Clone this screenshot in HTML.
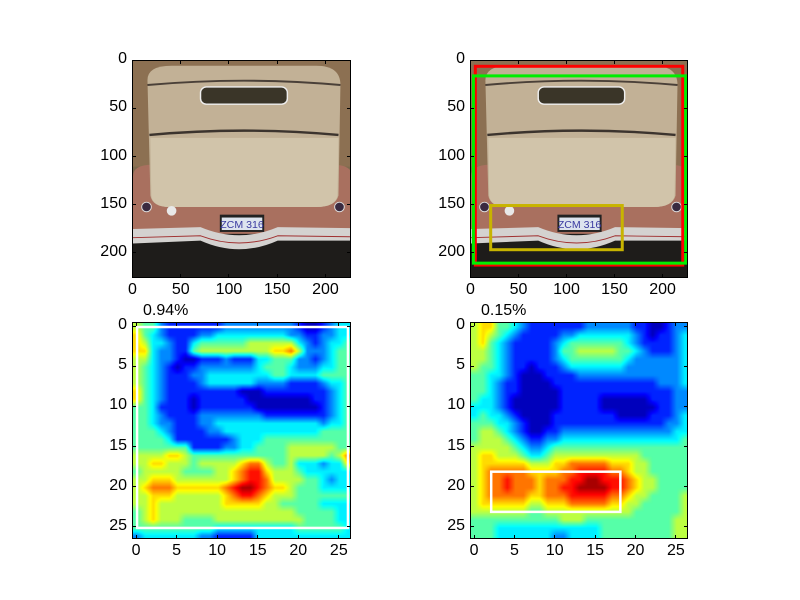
<!DOCTYPE html>
<html><head><meta charset="utf-8"><style>
body{margin:0;background:#fff;}
#root{position:relative;width:800px;height:600px;background:#fff;font-family:"Liberation Sans",sans-serif;overflow:hidden}
.ax{position:absolute;border:1px solid #000;box-sizing:border-box;overflow:hidden}
.lbl{position:absolute;font-size:16px;color:#000;white-space:nowrap}
.tk{position:absolute;background:#000}
canvas,svg{position:absolute;left:0;top:0}
</style></head><body>
<div id="root"></div>
<script>
const photoTicks=[0,50,100,150,200];
const heatTicks=[0,5,10,15,20,25];
const boxesRight=[{c:'#ff0000',x0:4,x1:220,y0:5,y1:212},{c:'#00ee00',x0:2,x1:223,y0:15,y1:210},{c:'#c8b400',x0:20,x1:157,y0:150,y1:196}];
const heatLeft=[
"544211111112222222221001233","643211112233333333322112233","653321134444445555553212334","663221145555555556675222344",
"553221001112111334442212344","543210112222222344432223344","543211122333333334433334444","543211112333333222211112334",
"643211111111100011111111234","643211101111110000000011234","443111101111111000000001234","443211112222222211111111234",
"443221112233333333333332334","444321111223333333333334444","444431111111233344444444444","444444411112233444455555544",
"555566544444444444455555457","556655545555567754453332336","455555444455678865554333333","556665555555678875555443233",
"567776666667899876654443333","556665555556788765554444444","556555555556666655444443333","456555555555555555554444433",
"456555444455555555555444433","444444444433333333334444443","233333332211111333333333333"];
const heatRight=[
"566443211111112222221100122","565432111112233333332101123","564321111123444444432111123","554321111124455555443211123",
"554321111123444444432222223","544321101112333333322222223","443321000111122222222222223","443211000011111111111112223",
"443211000001111111111111122","433210000001111100000011122","333210000001111100000001122","343321000011111111000011123",
"444332100011111111111111223","455432100112222222222222233","455543211223333333333333334","555554322344444444444444444",
"566555433455555555555444444","566666655566777776665544444","567777766667788887765544444","567787776777889988876554444",
"567787776778899998876554444","567777766777888887765544445","566666655666777776655444445","555555544555555555554444445",
"444444444445554444444444455","444333333333333344444444455","444333333322333344444444455"];
const boxLeft={x0:0,x1:26,y0:0,y1:25};
const boxRight={x0:2,x1:18,y0:18,y1:23};
const titles=["0.94%","0.15%"];

const root=document.getElementById('root');
function jet(t){t=Math.max(0,Math.min(1,t));
 const r=Math.max(0,Math.min(1,1.5-Math.abs(4*t-3))),g=Math.max(0,Math.min(1,1.5-Math.abs(4*t-2))),b=Math.max(0,Math.min(1,1.5-Math.abs(4*t-1)));
 return [r*255|0,g*255|0,b*255|0];}
function makeAxes(name,L,T,W,H,d0,d1,ticks){
 const ax=document.createElement('div');ax.className='ax';
 
 
 ax.style.left=L+'px';ax.style.top=T+'px';ax.style.width=W+'px';ax.style.height=H+'px';
 root.appendChild(ax);
 const sx=v=>(v-d0)/(d1-d0)*W, sy=v=>(v-d0)/(d1-d0)*H;
 ticks.forEach(v=>{
  const px=L+sx(v), py=T+sy(v);
  const xl=document.createElement('div');xl.className='lbl';
  
  
  xl.textContent=v;xl.style.left=(px-30)+'px';xl.style.width='60px';xl.style.textAlign='center';xl.style.top=(T+H+3)+'px';root.appendChild(xl);
  const yl=document.createElement('div');yl.className='lbl';
  
  
  yl.textContent=v;yl.style.right=(800-L+5)+'px';yl.style.top=(py-10)+'px';root.appendChild(yl);
  [[px-0.5,T,1,4],[px-0.5,T+H-4,1,4],[L,py-0.5,4,1],[L+W-4,py-0.5,4,1]].forEach(a=>{
   const t=document.createElement('div');t.className='tk';
   
   
   t.style.left=a[0]+'px';t.style.top=a[1]+'px';t.style.width=a[2]+'px';t.style.height=a[3]+'px';t.style.zIndex=5;root.appendChild(t);
  });
 });
 return {ax,sx,sy,W,H};
}
const photoSVG=`<rect x="0" y="0" width="227" height="227" fill="#7d6a4e"/>
<rect x="0" y="0" width="227" height="110" fill="#8c7052"/>
<path d="M0 120 Q0 108 20 108 L207 108 Q227 108 227 120 L227 185 L0 185Z" fill="#a9705f"/>
<path d="M15 20 Q15 5 40 5 L190 5 Q215 5 215 25 L213 140 Q210 152 190 152 L38 152 Q20 152 18 140Z" fill="#c2b196"/>
<path d="M18 80 L213 80 L212 140 Q210 152 190 152 L38 152 Q20 152 19 140Z" fill="#d1c4aa"/>
<path d="M15 25 Q115 16 215 25" stroke="#4a4038" stroke-width="2" fill="none"/>
<path d="M17 77 Q115 68 213 77" stroke="#3c342e" stroke-width="2.5" fill="none"/>
<rect x="70" y="27" width="90" height="18" rx="6" fill="#3a3528" stroke="#eee" stroke-width="1.5"/>
<circle cx="14" cy="152" r="5" fill="#3a2a40" stroke="#ddd"/><circle cx="214" cy="152" r="5" fill="#3a2a40" stroke="#ddd"/>
<circle cx="40" cy="156" r="5" fill="#e8e8e8"/>
<rect x="0" y="180" width="227" height="47" fill="#1e1c1a"/>
<path d="M0 175 L70 173 Q110 190 150 173 L227 174 L227 187 L150 187 Q110 205 70 187 L0 190Z" fill="#d4d2d0"/>
<path d="M0 184 L70 182 Q110 197 150 182 L227 183" stroke="#a03030" stroke-width="1" fill="none"/>
<rect x="90" y="160" width="46" height="18" fill="#222"/>
<rect x="92" y="163" width="42" height="13" fill="#dde4ee"/>
<text x="113" y="174" font-size="11" text-anchor="middle" fill="#3a3aa0" font-family="Liberation Sans, sans-serif">ZCM 316</text>`;
function photo(p,name){
 const s=document.createElementNS('http://www.w3.org/2000/svg','svg');
 
 
 s.setAttribute('width',p.W);s.setAttribute('height',p.H);s.setAttribute('viewBox','0 0 227 227');s.setAttribute('preserveAspectRatio','none');
 s.innerHTML=photoSVG;p.ax.appendChild(s);return s;
}
function rectSVG(p,b,color,name,lw){
 let s=p.ax.querySelector('svg.ov');
 if(!s){s=document.createElementNS('http://www.w3.org/2000/svg','svg');s.setAttribute('class','ov');s.setAttribute('width',p.W);s.setAttribute('height',p.H);s.style.zIndex=3;p.ax.appendChild(s);}
 const r=document.createElementNS('http://www.w3.org/2000/svg','rect');
 
 
 r.setAttribute('x',p.sx(b.x0));r.setAttribute('y',p.sy(b.y0));r.setAttribute('width',p.sx(b.x1)-p.sx(b.x0));r.setAttribute('height',p.sy(b.y1)-p.sy(b.y0));
 r.setAttribute('fill','none');r.setAttribute('stroke',color);r.setAttribute('stroke-width',lw);s.appendChild(r);
}
function heat(p,data,name){
 const n=data.length;
 const cv=document.createElement('canvas');
 
 
 const W=Math.round(p.W),H=Math.round(p.H);
 cv.width=W;cv.height=H;const g=cv.getContext('2d');const img=g.createImageData(W,H);
 const val=(i,j)=>+data[Math.max(0,Math.min(n-1,i))][Math.max(0,Math.min(n-1,j))];
 for(let y=0;y<H;y++){const fy=(y+0.5)/H*n-0.5;const i0=Math.floor(fy),ty=fy-i0;
  for(let x=0;x<W;x++){const fx=(x+0.5)/W*n-0.5;const j0=Math.floor(fx),tx=fx-j0;
   const v=(val(i0,j0)*(1-tx)+val(i0,j0+1)*tx)*(1-ty)+(val(i0+1,j0)*(1-tx)+val(i0+1,j0+1)*tx)*ty;
   const col=jet(0.06+v*0.1);const k=(y*W+x)*4;img.data[k]=col[0];img.data[k+1]=col[1];img.data[k+2]=col[2];img.data[k+3]=255;}}
 g.putImageData(img,0,0);p.ax.appendChild(cv);
}
function title(txt,x,y,name){const t=document.createElement('div');t.className='lbl';
 
 
 t.textContent=txt;t.style.left=x+'px';t.style.top=y+'px';root.appendChild(t);}

const a1=makeAxes('photo-axes',132,60,219,218,-0.5,226.5,photoTicks);photo(a1,'car-photo');
const a2=makeAxes('boxes-axes',470,60,218,218,-0.5,226.5,photoTicks);photo(a2,'car-photo-boxes');
boxesRight.forEach((b,i)=>rectSVG(a2,b,b.c,'bbox-'+i,3));
const a3=makeAxes('heatmap-left-axes',132,322,219,217,-0.5,26.5,heatTicks);heat(a3,heatLeft,'heatmap-left');rectSVG(a3,boxLeft,'#fff','box-left',2.5);
const a4=makeAxes('heatmap-right-axes',470,322,218,217,-0.5,26.5,heatTicks);heat(a4,heatRight,'heatmap-right');rectSVG(a4,boxRight,'#fff','box-right',2.5);
title(titles[0],143,302,'title-left');title(titles[1],481,302,'title-right');
</script></body></html>
